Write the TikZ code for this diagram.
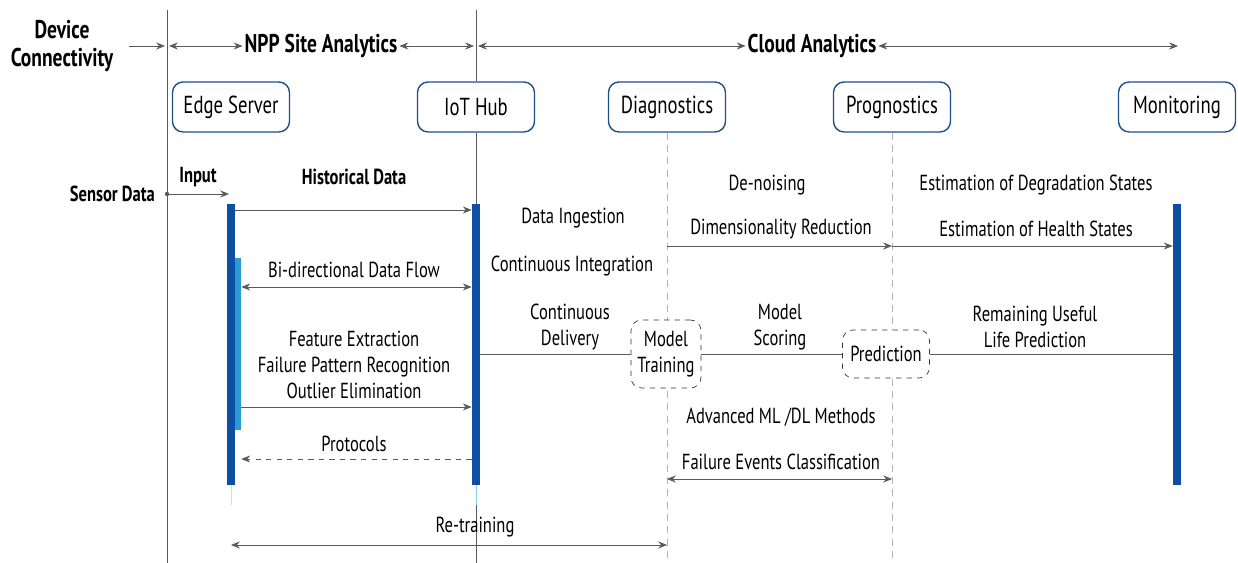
\documentclass[tikz,border=0pt]{standalone}
\usepackage{fontspec}
\setmainfont{PT Sans}[FakeStretch=0.76]
\usetikzlibrary{arrows.meta}
\definecolor{navy}{HTML}{1F4E8C}
\definecolor{barblue}{HTML}{0F4FA3}
\definecolor{lightbar}{HTML}{2A9BD8}
\definecolor{linegray}{HTML}{5A5A5A}
\begin{document}
\begin{tikzpicture}[x=0.02cm,y=-0.02cm,
    every node/.style={font=\fontsize{12.4}{14.8}\selectfont, inner sep=1pt, text=black},
    box/.style={draw=navy, thick, rounded corners=6pt, fill=white, minimum width=2.34cm,
      minimum height=1cm, font=\fontsize{14}{16}\selectfont},
    dbox/.style={draw=black!80, dashed, rounded corners=6pt, fill=white, align=center, inner sep=3pt},
    bar/.style={fill=barblue, minimum width=0.16cm, minimum height=5.62cm, inner sep=0pt},
    head/.style={font=\bfseries\fontsize{14.6}{16}\selectfont},
    bold/.style={font=\bfseries\fontsize{12.4}{14.8}\selectfont},
    flow/.style={draw=linegray, -{Stealth[length=5pt,width=4pt]}},
    both/.style={draw=linegray, {Stealth[length=5pt,width=4pt]}-{Stealth[length=5pt,width=4pt]}},
    life/.style={draw=black!30, dash pattern=on 4pt off 3pt},
    txt/.style={align=center}]
  \useasboundingbox (0,0) rectangle (1238,563);
  % headers
  \node[head, align=center] (dev) at (62,46) {Device\\Connectivity};
  \node[head] (npp) at (321,46) {NPP Site Analytics};
  \node[head] (cloud) at (812,46) {Cloud Analytics};
  \coordinate (t1) at (167,10);
  \coordinate (b1) at (167,563);
  \coordinate (t2) at (476,10);
  \coordinate (b2) at (476,563);
  \coordinate (a0) at (129,46);
  \coordinate (a1) at (165,46);
  \coordinate (a2) at (169,46);
  \coordinate (a3) at (474,46);
  \coordinate (a4) at (478,46);
  \coordinate (a5) at (1178,46);
  % boxes
  \node[box] (es) at (231,107) {Edge Server};
  \node[box] (hub) at (476,107) {IoT Hub};
  \node[box] (diag) at (667,107) {Diagnostics};
  \node[box] (prog) at (892,107) {Prognostics};
  \node[box] (mon) at (1177,107) {Monitoring};
  % lines
  \draw[linegray] (t1) -- (b1);
  \draw[linegray] (t2) -- (hub.north);
  \draw[linegray] (hub.south) -- (476,204);
  \draw[linegray] (476,505) -- (b2);
  \draw[lightbar!50] (476,485) -- (476,505);
  \draw[lightbar!30] (231,485) -- (231,505);
  \draw[life] (diag.south) -- (667,563);
  \draw[life] (prog.south) -- (892,563);
  \draw[flow] (a0) -- (a1);
  \draw[both] (a2) -- (npp.west);
  \draw[both] (npp.east) -- (a3);
  \draw[both] (a4) -- (cloud.west);
  \draw[both] (cloud.east) -- (a5);
  % bars
  \node[bar] (esbar) at (231,344.5) {};
  \node[fill=lightbar, minimum width=0.12cm, minimum height=3.44cm, inner sep=0pt] (esact) at (238,344) {};
  \node[bar] (hubbar) at (476,344.5) {};
  \node[bar] (monbar) at (1177,344.5) {};
  % dashed boxes
  \node[dbox, minimum width=1.4cm, minimum height=1.36cm] (mt) at (666,354) {Model\\Training};
  \node[dbox, minimum width=1.74cm, minimum height=0.96cm] (pred) at (886,354) {Prediction};
  % edge side
  \node[bold, anchor=east] (sensor) at (157,194) {Sensor Data};
  \coordinate (sd) at (167,194);
  \coordinate (sd2) at (229,194);
  \fill[linegray] (sd) circle (2.2);
  \draw[flow] (sd) -- (sd2);
  \node[bold] (input) at (198,177) {Input};
  \node[bold] (hist) at (354,177) {Historical Data};
  \draw[flow] (esbar.east |- 0,210) -- (hubbar.west |- 0,210);
  \node (bidir) at (354,270) {Bi-directional Data Flow};
  \draw[both] (esact.east |- 0,287) -- (hubbar.west |- 0,287);
  \node[txt] (feat) at (354,365) {Feature Extraction\\Failure Pattern Recognition\\Outlier Elimination};
  \draw[flow] (esact.east |- 0,407) -- (hubbar.west |- 0,407);
  \node (proto) at (354,444) {Protocols};
  \draw[flow, dashed] (hubbar.west |- 0,459) -- (esact.east |- 0,459);
  \node (retrain) at (475,527) {Re-training};
  \draw[both] (esbar |- 0,545) -- (diag |- 0,545);
  % cloud side
  \node (ingest) at (573,218) {Data Ingestion};
  \node (integ) at (572,266) {Continuous Integration};
  \node[txt] (deliv) at (570,327) {Continuous\\Delivery};
  \draw[linegray] (hubbar.east |- mt) -- (mt.west);
  \node[txt] (score) at (780,327) {Model\\Scoring};
  \draw[linegray] (mt.east) -- (pred.west);
  \node[txt] (rul) at (1035,327) {Remaining Useful\\Life Prediction};
  \draw[linegray] (pred.east) -- (monbar.west |- pred);
  \node (denoise) at (767,185) {De-noising};
  \node (dimred) at (781,229) {Dimensionality Reduction};
  \draw[flow] (diag |- 0,246) -- (prog |- 0,246);
  \node (degr) at (1036,185) {Estimation of Degradation States};
  \node (health) at (1036,229) {Estimation of Health States};
  \draw[flow] (prog |- 0,246) -- (monbar.west |- 0,246);
  \node (mldl) at (781,417) {Advanced ML /DL Methods};
  \node (fec) at (781,462) {Failure Events Classification};
  \draw[both] (diag |- 0,479) -- (prog |- 0,479);
\end{tikzpicture}
\end{document}
